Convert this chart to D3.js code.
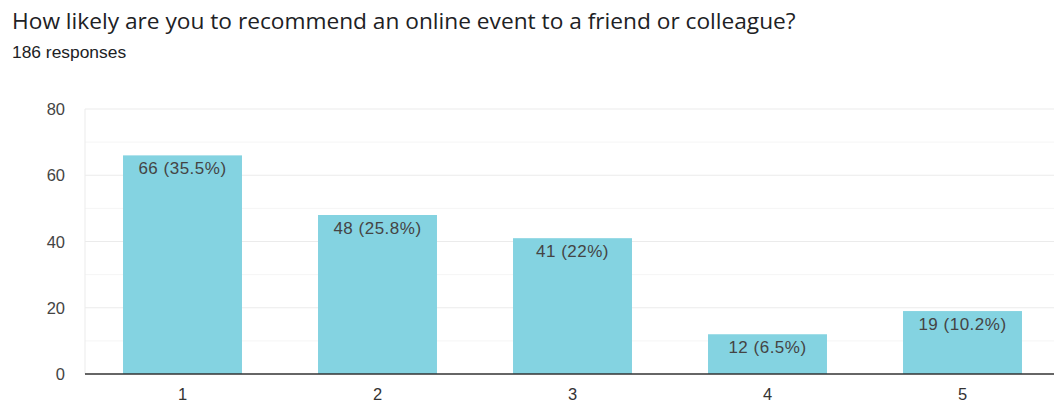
<!DOCTYPE html>
<html><head><meta charset="utf-8">
<script src="https://cdn.jsdelivr.net/npm/d3@7"></script>
<style>body{margin:0;background:#fff;}svg{display:block;font-family:"Liberation Sans",Arial,sans-serif;}</style>
</head><body><svg id="c" width="1054" height="405"></svg>
<script>
const categories = ["1","2","3","4","5"];
const counts = [66, 48, 41, 12, 19];
const labels = ["66 (35.5%)","48 (25.8%)","41 (22%)","12 (6.5%)","19 (10.2%)"];
const yTicks = [0,20,40,60,80];
const minorTicks = [10,30,50,70];

const svg = d3.select("#c");
const m = {left:85, right:-6, top:109, bottom:31};
const W = 1054, H = 405;
const x = d3.scaleBand().domain(categories).range([m.left, W - m.right]).paddingInner(0.39).paddingOuter(0.195);
const y = d3.scaleLinear().domain([0,80]).range([H - m.bottom, m.top]);

svg.append("text").attr("x",12).attr("y",29).attr("font-family","'Open Sans',sans-serif").attr("font-size",22.7).attr("fill","#202124").text("How likely are you to recommend an online event to a friend or colleague?");
svg.append("text").attr("x",12).attr("y",58).attr("font-size",17.4).attr("fill","#202124").text("186 responses");

svg.append("g").selectAll("line").data(minorTicks).join("line")
  .attr("x1",m.left).attr("x2",W).attr("y1",d=>y(d)).attr("y2",d=>y(d))
  .attr("stroke","#f5f5f5").attr("stroke-width",1);
svg.append("g").selectAll("line").data(yTicks.filter(d=>d>0)).join("line")
  .attr("x1",m.left).attr("x2",W).attr("y1",d=>y(d)).attr("y2",d=>y(d))
  .attr("stroke","#ebebeb").attr("stroke-width",1);
svg.append("line").attr("x1",m.left).attr("x2",m.left).attr("y1",y(80)).attr("y2",y(0)).attr("stroke","#ebebeb");

svg.append("g").selectAll("text").data(yTicks).join("text")
  .attr("x",65).attr("y",d=>y(d)+6).attr("text-anchor","end").attr("font-size",16.5).attr("fill","#444").text(d=>d);

svg.append("g").selectAll("rect").data(counts).join("rect")
  .attr("x",(d,i)=>x(categories[i])).attr("width",x.bandwidth())
  .attr("y",d=>y(d)).attr("height",d=>y(0)-y(d)).attr("fill","#84d3e1");

svg.append("g").selectAll("text").data(counts).join("text")
  .attr("x",(d,i)=>x(categories[i])+x.bandwidth()/2).attr("y",d=>y(d)+19)
  .attr("text-anchor","middle").attr("font-size",17).attr("letter-spacing",0.5).attr("fill","#444").text((d,i)=>labels[i]);

svg.append("line").attr("x1",m.left).attr("x2",W).attr("y1",y(0)).attr("y2",y(0)).attr("stroke","#333").attr("stroke-width",1.3);

svg.append("g").selectAll("text").data(categories).join("text")
  .attr("x",d=>x(d)+x.bandwidth()/2).attr("y",400).attr("text-anchor","middle").attr("font-size",16.5).attr("fill","#333").text(d=>d);
</script></body></html>
